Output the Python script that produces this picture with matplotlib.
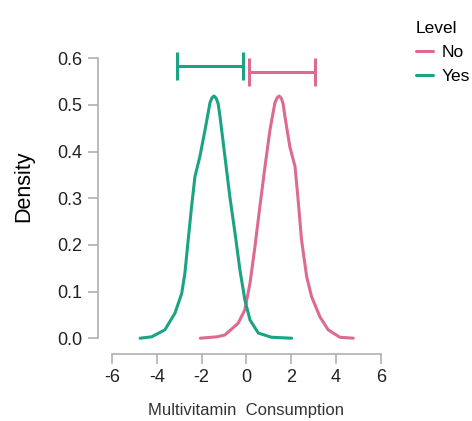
import matplotlib
matplotlib.use("Agg")
import matplotlib.pyplot as plt

# ----------------------------
# Data
# ----------------------------

yes_x = [-4.75, -4.23, -3.64, -3.19, -2.89, -2.75, -2.6, -2.45, -2.3, -2.08, -1.85,
         -1.63, -1.54, -1.45, -1.35, -1.26, -1.18, -0.96, -0.74, -0.51, -0.29, -0.07,
         0.16, 0.53, 1.12, 2.02]
yes_y = [0.0, 0.003, 0.018, 0.054, 0.096, 0.139, 0.211, 0.282, 0.346, 0.389, 0.446,
         0.504, 0.515, 0.519, 0.514, 0.502, 0.475, 0.389, 0.303, 0.225, 0.146, 0.082,
         0.039, 0.011, 0.002, 0.0]

no_x = [-2.06, -1.31, -0.96, -0.37, -0.07, 0.16, 0.38, 0.6, 0.83, 1.05, 1.27, 1.37,
        1.46, 1.56, 1.64, 1.72, 1.94, 2.17, 2.31, 2.46, 2.69, 2.91, 3.28, 3.65, 4.17,
        4.77]
no_y = [0.0, 0.003, 0.007, 0.032, 0.061, 0.118, 0.196, 0.282, 0.368, 0.446, 0.504,
        0.515, 0.519, 0.514, 0.502, 0.475, 0.41, 0.368, 0.296, 0.211, 0.132, 0.089,
        0.046, 0.018, 0.002, 0.0]

# interval bars: (low, high, height)
yes_bar = (-3.09, -0.14, 0.583)
no_bar = (0.125, 3.07, 0.570)

levels = ["No", "Yes"]
colors = {"No": "#dd6a8f", "Yes": "#1ba384"}

x_ticks = [-6, -4, -2, 0, 2, 4, 6]
y_ticks = [0.0, 0.1, 0.2, 0.3, 0.4, 0.5, 0.6]

font = "Liberation Sans"

# ----------------------------
# Plot
# ----------------------------

fig = plt.figure(figsize=(4.72, 4.21), dpi=100)
ax = fig.add_axes([0.2076, 0.159, 0.629, 0.736])

lines = {}
lines["No"], = ax.plot(no_x, no_y, color=colors["No"], lw=2.2,
                       solid_joinstyle="round", solid_capstyle="round")
lines["Yes"], = ax.plot(yes_x, yes_y, color=colors["Yes"], lw=2.2,
                        solid_joinstyle="round", solid_capstyle="round")

for lev, bar in (("Yes", yes_bar), ("No", no_bar)):
    lo, hi, h = bar
    ax.errorbar((lo + hi) / 2, h, xerr=(hi - lo) / 2, color=colors[lev],
                lw=2.2, capsize=10, capthick=2.2, fmt="none")

ax.set_xlim(-6.63, 6.63)
ax.set_ylim(-0.034, 0.63)

for side in ["top", "right"]:
    ax.spines[side].set_visible(False)
ax.spines["left"].set_bounds(0, 0.6)
ax.spines["bottom"].set_bounds(-6, 6)
for side in ["left", "bottom"]:
    ax.spines[side].set_color("#b0b0b0")
    ax.spines[side].set_linewidth(1.2)

ax.set_xticks(x_ticks)
ax.set_xticklabels([str(t) for t in x_ticks])
ax.set_yticks(y_ticks)
ax.set_yticklabels([f"{t:.1f}" for t in y_ticks])
ax.tick_params(direction="out", length=7, width=1.2, color="#b0b0b0",
               labelsize=13, labelcolor="#222222", pad=4)
for lab in ax.get_xticklabels() + ax.get_yticklabels():
    lab.set_family(font)

fig.text(24 / 472, 1 - 186 / 421, "Density", family=font, fontsize=15.5,
         rotation=90, ha="center", va="center")
fig.text(246 / 472, 1 - 403 / 421, "Multivitamin  Consumption", family=font,
         fontsize=12, color="#333333", ha="center", va="top")

leg = ax.legend([lines[l] for l in levels], levels, title="Level",
                loc="upper left", bbox_to_anchor=(416 / 472, 1 - 21 / 421),
                bbox_transform=fig.transFigure, frameon=False, borderpad=0,
                borderaxespad=0, handlelength=1.0, handletextpad=0.45,
                labelspacing=0.5,
                prop={"family": font, "size": 12.5},
                title_fontproperties={"family": font, "size": 12.5},
                alignment="left")

plt.savefig("out.png", dpi=100)
plt.close()
